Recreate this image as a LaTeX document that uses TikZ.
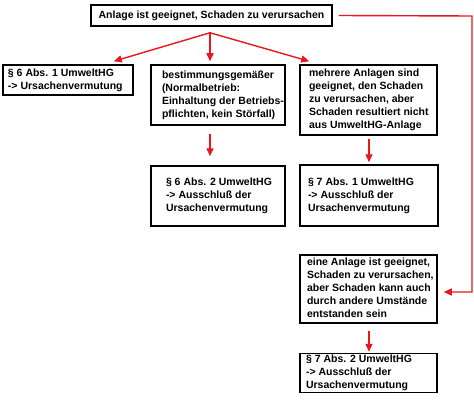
\documentclass[tikz,border=0pt]{standalone}
\usepackage{fontspec}
\setmainfont{Liberation Sans}
\usetikzlibrary{arrows.meta}
\definecolor{arrred}{RGB}{232,22,30}
\newcommand\tb[2]{\makebox[#1][l]{\begin{tabular}{@{}l@{}}#2\end{tabular}}}
\begin{document}
\begin{tikzpicture}[x=1pt,y=-1pt,
  box/.style={draw=black,line width=1.5pt,rectangle,inner ysep=0pt,
    font=\fontsize{10.5}{13}\selectfont\bfseries},
  arr/.style={draw=arrred,line width=1.4pt,-{Triangle[length=8pt,width=7pt]}}]
\useasboundingbox (0,0) rectangle (474,404);
\fill[white] (0,0) rectangle (474,404);
\node[box,minimum width=241pt,minimum height=21pt,inner xsep=0pt] (top) at (211.5,15.5) {Anlage ist geeignet, Schaden zu verursachen};
\node[box,inner xsep=5pt,minimum width=130pt,minimum height=30pt] (L1) at (68,80) {\tb{120pt}{§ 6 Abs. 1 UmweltHG\\-> Ursachenvermutung}};
\node[box,inner xsep=11pt,minimum width=134pt,minimum height=60pt] (M1) at (218,95) {\tb{112pt}{bestimmungsgemäßer\\(Normalbetrieb:\\Einhaltung der Betriebs-\\pflichten, kein Störfall)}};
\node[box,inner xsep=9pt,minimum width=137pt,minimum height=70pt] (R1) at (368.5,100) {\tb{119pt}{mehrere Anlagen sind\\geeignet, den Schaden\\zu verursachen, aber\\Schaden resultiert nicht\\aus UmweltHG-Anlage}};
\node[box,inner xsep=15pt,minimum width=134pt,minimum height=60pt] (M2) at (218,196) {\tb{104pt}{§ 6 Abs. 2 UmweltHG\\-> Ausschluß der\\Ursachenvermutung}};
\node[box,inner xsep=8pt,minimum width=138pt,minimum height=61pt] (R2) at (369,195.5) {\tb{122pt}{§ 7 Abs. 1 UmweltHG\\-> Ausschluß der\\Ursachenvermutung}};
\node[box,inner xsep=7pt,minimum width=137pt,minimum height=68pt] (E) at (368.5,289) {\tb{123pt}{eine Anlage ist geeignet,\\Schaden zu verursachen,\\aber Schaden kann auch\\durch andere Umstände\\entstanden sein}};
\node[box,inner xsep=6pt,minimum width=137pt,minimum height=38pt] (F) at (368.5,373) {\tb{125pt}{§ 7 Abs. 2 UmweltHG\\-> Ausschluß der\\Ursachenvermutung}};
\coordinate (split) at ([xshift=-1.5pt,yshift=-6pt]top.south);
\coordinate (corner1) at (472,16);
\coordinate (corner2) at (472,292);
\draw[arr] (split) -- ([xshift=-20pt,yshift=3pt]L1.north east);
\draw[arr] (split) -- ([yshift=3pt]split |- M1.north);
\draw[arr] (split) -- ([xshift=10pt,yshift=3pt]R1.north west);
\draw[arr] ([xshift=-8pt,yshift=-8pt]M1.south) -- ([xshift=-8pt,yshift=9pt]M2.north);
\draw[arr] ([xshift=0.5pt,yshift=-3pt]R1.south) -- ([yshift=2pt]R2.north);
\draw[arr] ([xshift=0.5pt,yshift=-7pt]E.south) -- ([xshift=0.5pt,yshift=1pt]F.north);
\draw[arr] ([xshift=6pt]top.east) -- (corner1) -- (corner2) -- ([xshift=6pt,yshift=-3pt]E.east);
\end{tikzpicture}
\end{document}
